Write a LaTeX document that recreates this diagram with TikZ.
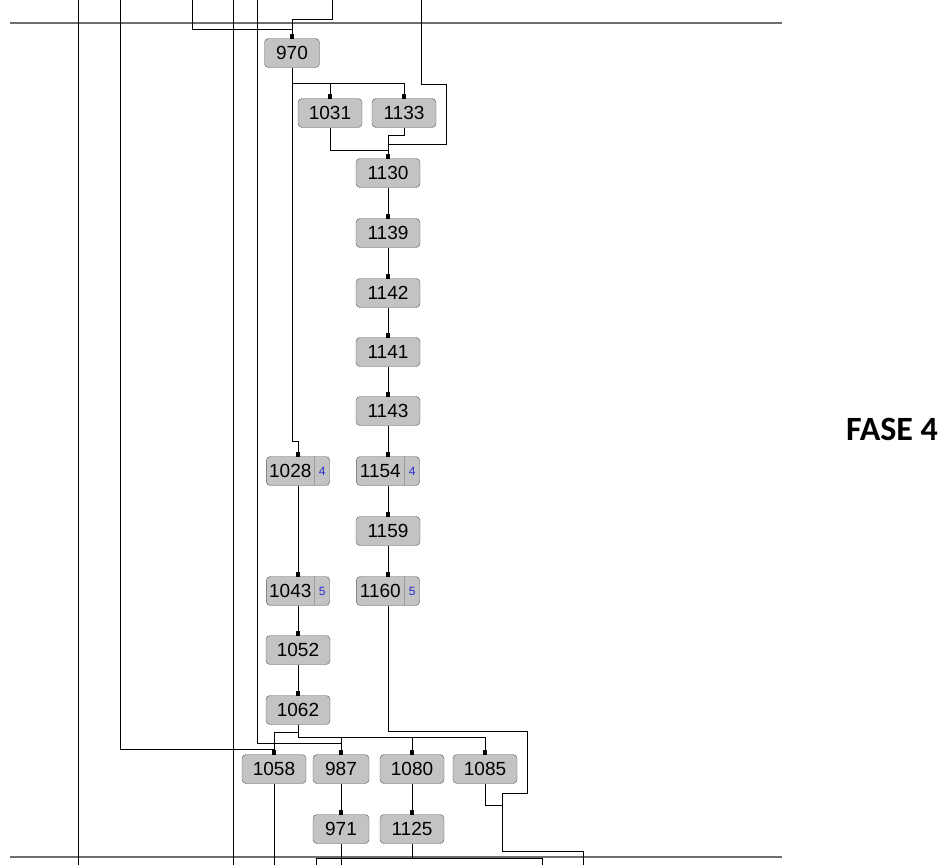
\documentclass[tikz,border=0pt]{standalone}
\usepackage{fontspec}
\setmainfont{Liberation Sans}
\newfontfamily\fasefont{Carlito}
\usepackage{xcolor}
\usepackage{tikz}
\usetikzlibrary{arrows.meta,shapes.multipart}
\definecolor{BoxFill}{HTML}{C3C3C3}
\definecolor{BoxRule}{HTML}{5A5A5A}
\definecolor{PhaseRule}{HTML}{6E6E6E}
\definecolor{CountBlue}{HTML}{2A2AD0}

\begin{document}
\begin{tikzpicture}[x=1pt,y=-1pt,
  blk/.style={draw=BoxRule,fill=BoxFill,rounded corners=4pt,minimum width=64pt,minimum height=29pt,inner sep=0pt,font=\fontsize{19}{19}\selectfont},
  splitblk/.style={blk,rectangle split,rectangle split horizontal,rectangle split parts=2,minimum width=0pt,inner xsep=3pt},
  link/.style={draw=black,line width=0.8pt},
  feed/.style={link,-{Square[length=4pt,width=4.5pt]}}]
  \useasboundingbox (0,0) rectangle (941,865);
  % phase separators
  \draw[PhaseRule,line width=1.6pt] (10,23) -- (782,23);
  \draw[PhaseRule,line width=1.6pt] (10,857) -- (782,857);
  % activities
  \node[blk,minimum width=55pt] (n970) at (292,53) {970};
  \node[blk] (n1031) at (330,113) {1031};
  \node[blk] (n1133) at (404,113) {1133};
  \node[blk] (n1130) at (388,173) {1130};
  \node[blk] (n1139) at (388,233) {1139};
  \node[blk] (n1142) at (388,293) {1142};
  \node[blk] (n1141) at (388,352) {1141};
  \node[blk] (n1143) at (388,411) {1143};
  \node[splitblk] (n1154) at (388,471) {\makebox[42pt]{1154}\nodepart{two}\makebox[9pt]{\color{CountBlue}\fontsize{12}{12}\selectfont 4}};
  \node[blk] (n1159) at (388,531) {1159};
  \node[splitblk] (n1160) at (388,591) {\makebox[42pt]{1160}\nodepart{two}\makebox[9pt]{\color{CountBlue}\fontsize{12}{12}\selectfont 5}};
  \node[splitblk] (n1028) at (298,471) {\makebox[42pt]{1028}\nodepart{two}\makebox[9pt]{\color{CountBlue}\fontsize{12}{12}\selectfont 4}};
  \node[splitblk] (n1043) at (298,591) {\makebox[42pt]{1043}\nodepart{two}\makebox[9pt]{\color{CountBlue}\fontsize{12}{12}\selectfont 5}};
  \node[blk] (n1052) at (298,650) {1052};
  \node[blk] (n1062) at (298,710) {1062};
  \node[blk] (n1058) at (274,769) {1058};
  \node[blk,minimum width=56pt] (n987) at (341,769) {987};
  \node[blk] (n1080) at (412,769) {1080};
  \node[blk] (n1085) at (485,769) {1085};
  \node[blk,minimum width=56pt] (n971) at (341,829) {971};
  \node[blk] (n1125) at (412,829) {1125};
  \node[font=\fasefont\bfseries\fontsize{34}{34}\selectfont] (fase) at (892,429) {FASE 4};
  % ends of lines leaving the phase
  \coordinate (tA) at (78,0);   \coordinate (bA) at (78,865);
  \coordinate (tB) at (120,0);
  \coordinate (tC) at (192,0);
  \coordinate (tD) at (233,0);  \coordinate (bD) at (233,865);
  \coordinate (tE) at (257,0);
  \coordinate (tF) at (332,0);
  \coordinate (tG) at (421,0);
  \coordinate (bF) at (583,865);
  \coordinate (bG) at (542,865);
  \coordinate (bH) at (316,865);
  % links
  \draw[link] (tA) -- (bA);
  \draw[link] (tD) -- (bD);
  \draw[feed] (tC) -- ++(0,29) -| (n970.north);
  \draw[feed] (tF) -- ++(0,19) -| (n970.north);
  \draw[feed] (n970.south) -- ++(0,16) -| (n1031.north);
  \draw[feed] (n970.south) -- ++(0,16) -| (n1133.north);
  \draw[feed] (n970.south) -- ++(0,374) -| (n1028.north);
  \draw[feed] (tG) -- ++(0,84) -- ++(25,0) -- ++(0,60) -| (n1130.north);
  \draw[feed] (n1031.south) -- ++(0,23) -| (n1130.north);
  \draw[feed] (n1133.south) -- ++(0,8) -| (n1130.north);
  \draw[feed] (n1130) -- (n1139);
  \draw[feed] (n1139) -- (n1142);
  \draw[feed] (n1142) -- (n1141);
  \draw[feed] (n1141) -- (n1143);
  \draw[feed] (n1143) -- (n1154.north);
  \draw[feed] (n1154.south) -- (n1159);
  \draw[feed] (n1159) -- (n1160.north);
  \draw[feed] (n1028.south) -- (n1043.north);
  \draw[feed] (n1043.south) -- (n1052);
  \draw[feed] (n1052) -- (n1062);
  \draw[feed] (n1062.south) -- ++(0,8) -| (n1058.north);
  \draw[feed] (n1062.south) -- ++(0,13) -| (n987.north);
  \draw[feed] (n1062.south) -- ++(0,13) -| (n1080.north);
  \draw[feed] (n1062.south) -- ++(0,13) -| (n1085.north);
  \draw[feed] (tB) -- ++(0,749) -| (n1058.north);
  \draw[feed] (tE) -- ++(0,743) -| (n987.north);
  \draw[feed] (n987) -- (n971);
  \draw[feed] (n1080) -- (n1125);
  \draw[link] (n1160.south) -- ++(0,126) -- ++(139,0) -- ++(0,62) -- ++(-25,0) -- ++(0,58) -| (bF);
  \draw[link] (n1085.south) -- ++(0,22) -- ++(17,0);
  \draw[link] (n1058.south) -- (n1058.south |- bF);
  \draw[link] (n971.south) -- (n971.south |- bF);
  \draw[link] (n1125.south) -- ++(0,15) -| (bG);
  \draw[link] (bH) -- ++(0,-6.5) -- ++(96,0);
\end{tikzpicture}
\end{document}
